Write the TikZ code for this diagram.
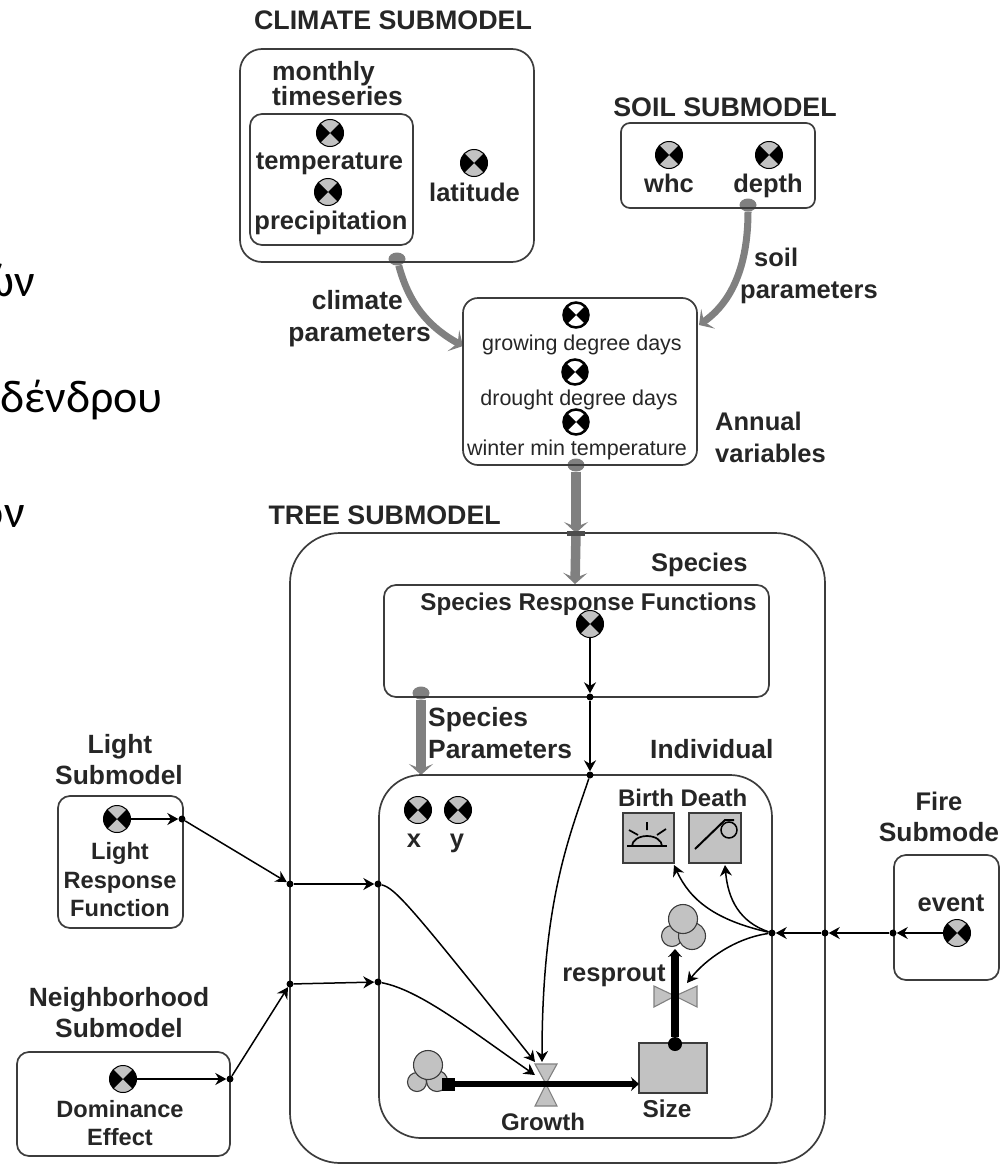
\documentclass[tikz,border=0pt]{standalone}
\usepackage{fontspec}
\setmainfont{Liberation Sans}
\newfontfamily\grfont{Carlito}
\usepackage{xcolor}
\definecolor{pipegrey}{HTML}{808080}
\definecolor{stockgrey}{HTML}{C2C2C2}
\definecolor{linedark}{HTML}{3C3C3C}
\definecolor{textdark}{HTML}{262626}
\usepackage{tikz}
\usetikzlibrary{arrows.meta,positioning,shapes.geometric}

\begin{document}
\begin{tikzpicture}[
  x=1pt, y=-1pt,
  box/.style={draw=linedark, line width=1.7pt, rounded corners=12pt, inner sep=0pt},
  bigbox/.style={box, rounded corners=22pt},
  hugebox/.style={box, rounded corners=50pt},
  lbl/.style={font=\fontsize{25.5}{28}\selectfont\bfseries, color=textdark, inner sep=0pt,
              text height=18pt, text depth=0pt},
  widelbl/.style={lbl, font=\fontsize{26.4}{30}\selectfont\bfseries},
  narrowlbl/.style={lbl, font=\fontsize{23.6}{26}\selectfont\bfseries},
  title/.style={lbl, font=\fontsize{26.8}{30}\selectfont\bfseries},
  thinlbl/.style={lbl, font=\fontsize{21.5}{24}\selectfont},
  grtext/.style={font=\fontsize{46}{50}\selectfont\grfont, color=black, inner sep=0pt,
                 anchor=base east},
  conv/.style={circle, draw=black, line width=1pt, fill=stockgrey, minimum size=27pt, inner sep=0pt,
               path picture={
                 \fill[black] (path picture bounding box.center) -- (path picture bounding box.north west)
                   -- (path picture bounding box.south west) -- cycle;
                 \fill[black] (path picture bounding box.center) -- (path picture bounding box.north east)
                   -- (path picture bounding box.south east) -- cycle;}},
  convw/.style={conv, fill=white, line width=2.5pt, minimum size=25pt},
  stock/.style={draw=linedark, fill=stockgrey, line width=1.5pt, inner sep=0pt},
  puff/.style={circle, draw=linedark, fill=stockgrey, line width=1.1pt, inner sep=0pt},
  valve/.style={draw=pipegrey, fill=stockgrey, line width=1.1pt},
  dot/.style={circle, fill=black, inner sep=0pt, minimum size=7pt},
  blob/.style={ellipse, fill=pipegrey, inner sep=0pt, minimum width=17pt, minimum height=13pt},
  port/.style={fill=black!70, inner sep=0pt, minimum width=18pt, minimum height=5pt},
  pipe/.style={-{Stealth[length=11pt,width=24pt,inset=5pt]}, line width=7pt, color=pipegrey},
  fatpipe/.style={pipe, line width=9.5pt},
  arr/.style={-{Stealth[length=11pt,width=12pt]}, line width=1.5pt, color=black},
  flow/.style={-{Stealth[length=8pt,width=14pt]}, line width=6.5pt, color=black},
]
  \useasboundingbox (0,0) rectangle (1007,1164);

  \node[grtext] (grone) at (35,296) {ών};
  \node[grtext] (grtwo) at (163,412) {δένδρου};
  \node[grtext] (grthree) at (25,527) {ον};

  \node[blob] (climout) at (397,259) {};
  \node[blob] (soilout) at (748,205) {};
  \node[blob] (annualout) at (576,465) {};
  \node[blob] (spout) at (421,693) {};
  \coordinate (climin) at (463,346);
  \coordinate (soilin) at (699,325);
  \coordinate (treeport) at (576,533);
  \coordinate (spin) at (575,584);
  \coordinate (indin) at (421,775);
  \draw[pipe] (climout) .. controls (408,300) and (425,325) .. (climin);
  \draw[pipe] (soilout) .. controls (748,260) and (735,300) .. (soilin);
  \draw[fatpipe] (annualout) -- (treeport);
  \draw[fatpipe] (treeport) -- (spin);
  \draw[fatpipe] (spout) -- (indin);

  \node[title] (climatetitle) at (393,20.5) {CLIMATE SUBMODEL};
  \node[bigbox, minimum width=294pt, minimum height=213pt] (climate) at (387,155.5) {};
  \node[box, minimum width=163pt, minimum height=131pt] (series) at (331.5,179.5) {};
  \node[widelbl, anchor=west] (monthly) at (272,72) {monthly};
  \node[widelbl, anchor=west] (timeseries) at (272,96) {timeseries};
  \node[conv] (tempicon) at (330,133) {};
  \node[lbl] (temp) at (329.5,160) {temperature};
  \node[conv] (precicon) at (328,192) {};
  \node[lbl] (prec) at (331,220) {precipitation};
  \node[conv] (laticon) at (474,163) {};
  \node[lbl] (lat) at (474.5,192) {latitude};

  \node[title] (soiltitle) at (725,107.5) {SOIL SUBMODEL};
  \node[box, rounded corners=9pt, minimum width=194pt, minimum height=85pt] (soil) at (718,165.5) {};
  \node[conv] (whcicon) at (669,155) {};
  \node[lbl] (whc) at (669,183) {whc};
  \node[conv] (depthicon) at (769,155) {};
  \node[lbl] (depth) at (768,183) {depth};

  \node[box, rounded corners=15pt, minimum width=234pt, minimum height=167pt] (annual) at (580,381.5) {};
  \node[convw] (gddicon) at (576,315) {};
  \node[thinlbl] (gdd) at (582,341) {growing degree days};
  \node[convw] (dddicon) at (575,372) {};
  \node[thinlbl] (ddd) at (579,396) {drought degree days};
  \node[convw] (minicon) at (576,422) {};
  \node[thinlbl] (wmt) at (577,446) {winter min temperature};
  \node[lbl, anchor=west] (annuallbl) at (715,421) {Annual};
  \node[lbl, anchor=west] (varlbl) at (715,453) {variables};

  \node[widelbl, anchor=east] (climlbl) at (403,300) {climate};
  \node[widelbl, anchor=east] (climpar) at (431,332) {parameters};
  \node[lbl, anchor=west] (soillbl) at (754,257) {soil};
  \node[lbl, anchor=west] (soilpar) at (740,289) {parameters};

  \node[title, anchor=east] (treetitle) at (501,515.5) {TREE SUBMODEL};
  \node[hugebox, minimum width=535pt, minimum height=630pt] (tree) at (557.5,848) {};
  \node[port] (treebar) at (treeport) {};
  \node[lbl, anchor=west] (species) at (651,562) {Species};
  \node[box, minimum width=385pt, minimum height=112pt] (spbox) at (576.5,641) {};
  \node[lbl, font=\fontsize{24.2}{26}\selectfont\bfseries] (spfun) at (588.5,601) {Species Response Functions};
  \node[conv] (spicon) at (590,624) {};
  \node[widelbl, anchor=west] (individual) at (650,749) {Individual};
  \node[widelbl, anchor=west] (spleft) at (428,717) {Species};
  \node[widelbl, anchor=west] (spparam) at (428,749) {Parameters};

  \node[hugebox, rounded corners=42pt, minimum width=393pt, minimum height=363pt] (ind) at (575.5,956.5) {};

  \node[conv] (xicon) at (418,810) {};
  \node[lbl] (xlbl) at (414,838) {x};
  \node[conv] (yicon) at (458,810) {};
  \node[lbl] (ylbl) at (457,838) {y};

  \node[lbl, font=\fontsize{24}{26}\selectfont\bfseries] (birthlbl) at (646,797) {Birth};
  \node[lbl, font=\fontsize{24}{26}\selectfont\bfseries] (deathlbl) at (714,797) {Death};
  \node[stock, minimum width=51pt, minimum height=50pt] (birth) at (648.5,838) {};
  \node[stock, minimum width=52pt, minimum height=50pt] (death) at (715,838) {};
  \draw[line width=2pt] (627,846) -- (667,846);
  \draw[line width=1.7pt] (632,846) arc[start angle=180, end angle=0, x radius=15pt, y radius=10pt];
  \draw[line width=1.7pt] (647,822) -- (647,830) (629,830) -- (638,835) (666,829) -- (657,835);
  \draw[line width=2pt] (695,849) -- (725,820) -- (734,820);
  \draw[line width=1.5pt] (729,830) ellipse[x radius=8pt, y radius=8pt];

  \node[puff, minimum size=19pt] (growpuffa) at (417,1082) {};
  \node[puff, minimum size=21pt] (growpuffb) at (437,1081) {};
  \node[puff, minimum size=29pt] (growpuffc) at (428,1065) {};
  \node[fill=black, inner sep=0pt, minimum size=13pt] (growsrc) at (448,1084) {};
  \node[stock, minimum width=68pt, minimum height=50pt] (size) at (673,1068) {};
  \coordinate (sizein) at (639,1084);
  \fill[valve] (535,1064) -- (557,1064) -- (546,1084) -- (557,1106) -- (535,1106) -- (546,1084) -- cycle;
  \draw[flow] (growsrc) -- (sizein);
  \node[lbl, font=\fontsize{24}{26}\selectfont\bfseries] (growth) at (543,1121) {Growth};
  \node[lbl, font=\fontsize{24.4}{26}\selectfont\bfseries] (sizelbl) at (667,1108) {Size};

  \node[puff, minimum size=21pt] (sprpuffa) at (672,936) {};
  \node[puff, minimum size=27pt] (sprpuffb) at (692,936) {};
  \node[puff, minimum size=29pt] (sprpuffc) at (683,919) {};
  \node[circle, fill=black, inner sep=0pt, minimum size=14pt] (sprsrc) at (675,1044) {};
  \coordinate (sprtop) at (675,949);
  \fill[valve] (654,986) -- (675,996) -- (697,986) -- (697,1007) -- (675,996) -- (654,1007) -- cycle;
  \draw[flow, line width=8pt] (sprsrc) -- (sprtop);
  \node[lbl] (resprout) at (614,972) {resprout};

  \node[widelbl] (lighttop) at (120,744) {Light};
  \node[widelbl] (lightsub) at (119,775) {Submodel};
  \node[box, minimum width=125pt, minimum height=132pt] (light) at (120.5,862) {};
  \node[conv] (lighticon) at (117,819) {};
  \node[narrowlbl] (lightone) at (120,850) {Light};
  \node[narrowlbl] (lighttwo) at (120,879) {Response};
  \node[narrowlbl] (lightthree) at (120,907) {Function};

  \node[widelbl] (neightop) at (119,997) {Neighborhood};
  \node[widelbl] (neighsub) at (119,1028) {Submodel};
  \node[box, minimum width=213pt, minimum height=104pt] (neigh) at (123.5,1104) {};
  \node[conv] (domicon) at (123,1079) {};
  \node[narrowlbl] (domone) at (120,1108) {Dominance};
  \node[narrowlbl] (domtwo) at (120,1136) {Effect};

  \node[lbl] (firetop) at (939,801) {Fire};
  \node[widelbl] (firesub) at (939,832) {Submode};
  \node[box, minimum width=105pt, minimum height=125pt] (fire) at (946.5,917.5) {};
  \node[lbl] (event) at (951,902) {event};
  \node[conv] (fireicon) at (957,933) {};

  \node[dot] (lightport) at (182,819) {};
  \node[dot] (lighttree) at (290,884) {};
  \node[dot] (lightind) at (378,884) {};
  \node[dot] (domport) at (230,1079) {};
  \node[dot] (domtree) at (290,984) {};
  \node[dot] (domind) at (378,982) {};
  \node[dot] (fireport) at (893,933) {};
  \node[dot] (firetree) at (825,933) {};
  \node[dot] (fireind) at (772,933) {};
  \node[dot] (spport) at (590,697) {};
  \node[dot] (spind) at (590,775) {};

  \coordinate (growtop) at (542,1062);
  \coordinate (growleft) at (535,1062);
  \coordinate (growlow) at (535,1075);
  \coordinate (birthin) at (674,865);
  \coordinate (deathin) at (725,865);
  \coordinate (sprin) at (687,983);

  \draw[arr] (lighticon) -- (lightport);
  \draw[arr] (lightport) -- (lighttree);
  \draw[arr] (lighttree) -- (lightind);
  \draw[arr] (lightind) .. controls (395,888) and (410,905) .. (growleft);
  \draw[arr] (domicon) -- (domport);
  \draw[arr] (domport) -- (domtree);
  \draw[arr] (domtree) -- (domind);
  \draw[arr] (domind) .. controls (420,990) and (470,1030) .. (growlow);
  \draw[arr] (fireicon) -- (fireport);
  \draw[arr] (fireport) -- (firetree);
  \draw[arr] (firetree) -- (fireind);
  \draw[arr] (fireind) .. controls (715,920) and (690,900) .. (birthin);
  \draw[arr] (fireind) .. controls (740,922) and (728,900) .. (deathin);
  \draw[arr] (fireind) .. controls (735,938) and (705,960) .. (sprin);
  \draw[arr] (spicon) -- (spport);
  \draw[arr] (spport) -- (spind);
  \draw[arr] (spind) .. controls (570,835) and (542,900) .. (growtop);
\end{tikzpicture}
\end{document}
